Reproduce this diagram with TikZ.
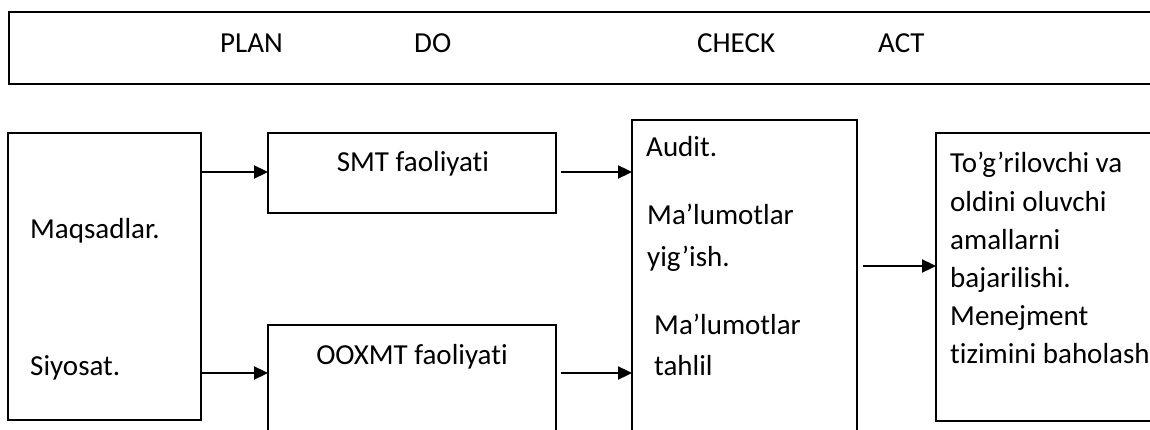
\documentclass[tikz,border=0pt]{standalone}
\usepackage{fontspec}
\setmainfont{Carlito}[Ligatures={NoCommon,NoContextual,NoRequired},RawFeature={-calt}]
\usetikzlibrary{arrows.meta}
\begin{document}
\begin{tikzpicture}[x=1pt,y=-1pt,
  box/.style={draw=black,line width=2.3pt,rectangle,anchor=north west,inner sep=0pt,outer sep=0pt},
  txt/.style={anchor=base west,inner sep=0pt,font=\fontsize{29}{34}\selectfont},
  ctxt/.style={anchor=base,inner sep=0pt,font=\fontsize{29}{34}\selectfont},
  arr/.style={line width=2.3pt,-{Triangle[length=14pt,width=13pt]}}]
\useasboundingbox (0,0) rectangle (1150,430);
\clip (0,0) rectangle (1150,430);
% boxes
\node[box,minimum width=1156pt,minimum height=72pt] (top) at (9,12) {};
\node[box,minimum width=193pt,minimum height=287pt] (lb) at (8,133) {};
\node[box,minimum width=288pt,minimum height=80pt] (smt) at (268,133) {};
\node[box,minimum width=288pt,minimum height=120pt] (oox) at (268,325) {};
\node[box,minimum width=225pt,minimum height=325pt] (chk) at (632,120) {};
\node[box,minimum width=229pt,minimum height=288pt] (act) at (936,133) {};
% header texts
\node[txt] (tplan) at (220,53) {PLAN};
\node[txt] (tdo) at (414,53) {DO};
\node[txt] (tcheck) at (697,53) {CHECK};
\node[txt] (tact) at (878,53) {ACT};
% left box
\node[txt] (maq) at (30,239) {Maqsadlar.};
\node[txt] (siy) at (30,375) {Siyosat.};
% do boxes
\node[ctxt] (tsmt) at (413,172) {SMT faoliyati};
\node[ctxt] (toox) at (412,364) {OOXMT faoliyati};
% check box
\node[txt] (c1) at (646,157) {Audit.};
\node[txt] (c2) at (647,225) {Ma’lumotlar};
\node[txt] (c3) at (647,266) {yig’ish.};
\node[txt] (c4) at (654,334) {Ma’lumotlar};
\node[txt] (c5) at (654,375) {tahlil};
% act box
\node[txt] (a1) at (950,173) {To’g’rilovchi va};
\node[txt] (a2) at (950,212) {oldini oluvchi};
\node[txt] (a3) at (950,249) {amallarni};
\node[txt] (a4) at (950,287) {bajarilishi.};
\node[txt] (a5) at (950,325) {Menejment};
\node[txt] (a6) at (950,363) {tizimini baholash};
% arrows
\coordinate (y1) at (0,172);
\coordinate (y2) at (0,373);
\coordinate (y3) at (0,266);
\draw[arr] (lb.east |- y1) -- (smt.west |- y1);
\draw[arr] (lb.east |- y2) -- (oox.west |- y2);
\draw[arr,shorten <=5pt] (smt.east |- y1) -- (chk.west |- y1);
\draw[arr,shorten <=5pt] (oox.east |- y2) -- (chk.west |- y2);
\draw[arr,shorten <=6pt] (chk.east |- y3) -- (act.west |- y3);
\end{tikzpicture}
\end{document}
